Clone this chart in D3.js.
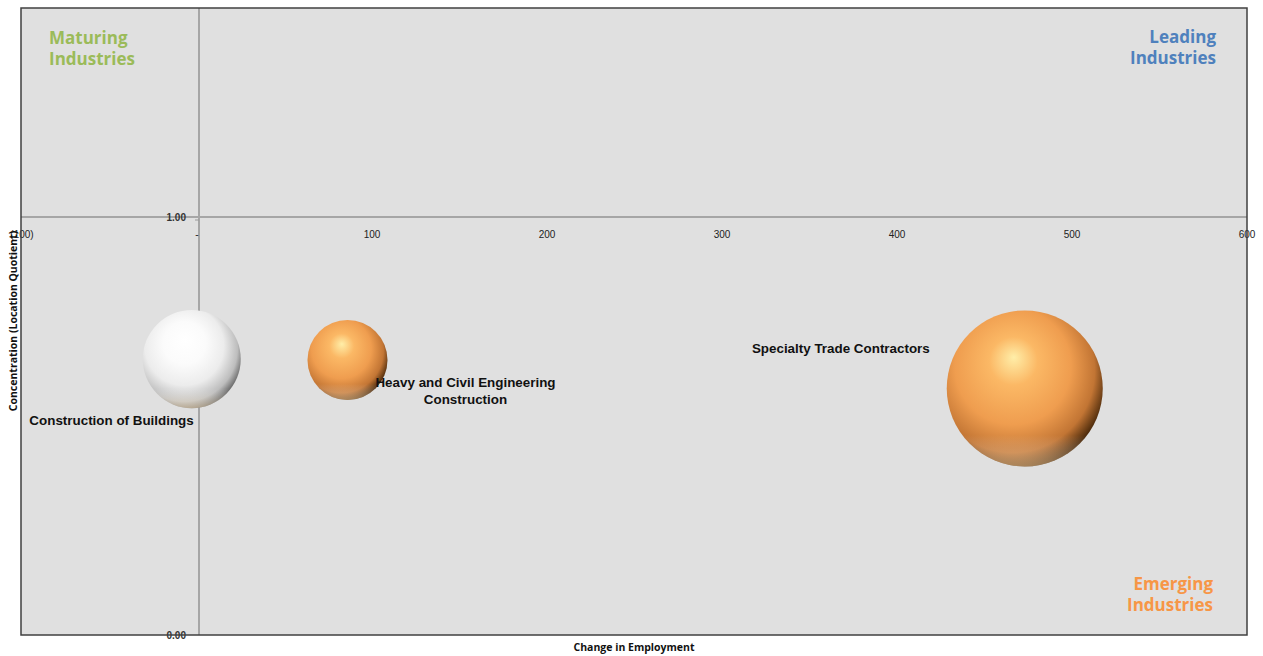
<!DOCTYPE html>
<html><head><meta charset="utf-8">
<script src="https://cdn.jsdelivr.net/npm/d3@7"></script>
<style>body{margin:0;background:#fff;}svg{display:block;}</style>
</head><body>
<script>
const industries = ["Construction of Buildings", "Heavy and Civil Engineering Construction", "Specialty Trade Contractors"];
const changeEmp = [-3, 86, 473];
const locQuot = [0.66, 0.658, 0.59];
const bubbleSize = [2400, 1600, 6080];
const bubbleKind = ["white", "orange", "orange"];
const xTicks = [-100, 0, 100, 200, 300, 400, 500, 600];
const xTickLabels = ["(100)", "-", "100", "200", "300", "400", "500", "600"];
const yTicks = [0, 1];
const yTickLabels = ["0.00", "1.00"];
const quadrants = [
  {lines:["Maturing","Industries"], color:"#9bbb59", pos:"tl"},
  {lines:["Leading","Industries"], color:"#4f81bd", pos:"tr"},
  {lines:["Emerging","Industries"], color:"#f79646", pos:"br"}
];

const W = 1263, H = 656;
const L = 21, R = 1247, T = 8, B = 635;
const svg = d3.select("body").append("svg").attr("width", W).attr("height", H);
const x = d3.scaleLinear().domain([-100, 600]).range([22, 1247]);
const y = d3.scaleLinear().domain([0, 1.5]).range([635, 8]);
const r = d3.scaleSqrt().domain([0, d3.max(bubbleSize)]).range([0, 78]);

const defs = svg.append("defs");
const og = defs.append("radialGradient").attr("id","gOrange").attr("cx","0.42").attr("cy","0.4").attr("r","0.62").attr("fx","0.43").attr("fy","0.3");
[[0,"#ffeea8"],[0.25,"#fbb865"],[0.6,"#ef9d4f"],[0.85,"#c27534"],[1,"#4f2c0c"]].forEach(s=>og.append("stop").attr("offset",s[0]).attr("stop-color",s[1]));
const wg = defs.append("radialGradient").attr("id","gWhite").attr("cx","0.42").attr("cy","0.4").attr("r","0.62").attr("fx","0.43").attr("fy","0.3");
[[0,"#ffffff"],[0.35,"#fbfbfb"],[0.65,"#ececec"],[0.88,"#bdbdbd"],[1,"#6e6e6e"]].forEach(s=>wg.append("stop").attr("offset",s[0]).attr("stop-color",s[1]));
// bottom rim reflection
const rg = defs.append("linearGradient").attr("id","gRim").attr("x1","0").attr("y1","0").attr("x2","0").attr("y2","1");
[[0,"#ffffff",0],[0.8,"#ffffff",0],[1,"#ffe0b0",0.45]].forEach(s=>rg.append("stop").attr("offset",s[0]).attr("stop-color",s[1]).attr("stop-opacity",s[2]));

svg.append("rect").attr("x",L).attr("y",T).attr("width",R-L).attr("height",B-T).attr("fill","#e0e0e0");

// axes lines (crossing)
svg.append("line").attr("x1",L).attr("x2",R).attr("y1",y(1)).attr("y2",y(1)).attr("stroke","#a6a6a6").attr("stroke-width",2);
svg.append("line").attr("x1",x(0)+2).attr("x2",x(0)+2).attr("y1",T).attr("y2",B).attr("stroke","#a6a6a6").attr("stroke-width",2);

// x tick labels
svg.append("g").selectAll("text").data(xTicks).join("text")
  .attr("x",d=>x(d)).attr("y",y(1)+21).attr("text-anchor","middle")
  .attr("font-family","Liberation Sans, Arial, sans-serif").attr("font-size",10).attr("fill","#222")
  .text((d,i)=>xTickLabels[i]);
// y tick labels
svg.append("g").selectAll("text").data(yTicks).join("text")
  .attr("x",x(0)-11).attr("y",d=>y(d)+4).attr("text-anchor","end")
  .attr("font-family","Liberation Sans, Arial, sans-serif").attr("font-size",10).attr("font-weight","bold").attr("fill","#333")
  .text((d,i)=>yTickLabels[i]);
svg.append("line").attr("x1",x(0)-2).attr("x2",x(0)+2).attr("y1",y(1)+3).attr("y2",y(1)+3).attr("stroke","#999");

// border
svg.append("rect").attr("x",L).attr("y",T).attr("width",R-L).attr("height",B-T).attr("fill","none").attr("stroke","#404040").attr("stroke-width",1.5);

// axis titles
svg.append("text").attr("x",634).attr("y",651).attr("text-anchor","middle")
  .attr("font-family","Open Sans, sans-serif").attr("font-weight","bold").attr("font-size",10.5).attr("fill","#111").text("Change in Employment");
svg.append("text").attr("transform","translate(17,321) rotate(-90)").attr("text-anchor","middle")
  .attr("font-family","Open Sans, sans-serif").attr("font-weight","bold").attr("font-size",10.5).attr("fill","#111").text("Concentration (Location Quotient)");

// bubbles
const data = industries.map((n,i)=>({n, x:changeEmp[i], y:locQuot[i], s:bubbleSize[i], k:bubbleKind[i]}));
const bg = svg.append("g");
bg.selectAll("circle.b").data(data).join("circle").attr("class","b")
  .attr("cx",d=>x(d.x)).attr("cy",d=>y(d.y)).attr("r",d=>r(d.s))
  .attr("fill",d=>d.k==="white"?"url(#gWhite)":"url(#gOrange)");
bg.selectAll("circle.rim").data(data).join("circle").attr("class","rim")
  .attr("cx",d=>x(d.x)).attr("cy",d=>y(d.y)).attr("r",d=>r(d.s))
  .attr("fill","url(#gRim)");

// data labels
const lab = svg.append("g").attr("font-family","Liberation Sans, Arial, sans-serif").attr("font-weight","bold").attr("font-size",13.4).attr("fill","#111");
lab.append("text").attr("x",x(changeEmp[0])+2).attr("y",y(locQuot[0])+66).attr("text-anchor","end").text("Construction of Buildings");
const h = lab.append("text").attr("text-anchor","middle");
h.append("tspan").attr("x",x(changeEmp[1])+118).attr("y",y(locQuot[1])+27).text("Heavy and Civil Engineering");
h.append("tspan").attr("x",x(changeEmp[1])+118).attr("y",y(locQuot[1])+44).text("Construction");
lab.append("text").attr("x",x(changeEmp[2])-95).attr("y",y(locQuot[2])-35).attr("text-anchor","end").text("Specialty Trade Contractors");

// quadrant labels
const q = svg.append("g").attr("font-family","Open Sans, sans-serif").attr("font-weight","bold").attr("font-size",17);
quadrants.forEach(d=>{
  const t = q.append("text").attr("fill",d.color);
  let ax, ay, anchor;
  if(d.pos==="tl"){ax=49;ay=44;anchor="start";}
  else if(d.pos==="tr"){ax=1216;ay=43;anchor="end";}
  else {ax=1213;ay=590;anchor="end";}
  t.attr("text-anchor",anchor);
  d.lines.forEach((ln,i)=>t.append("tspan").attr("x",ax).attr("y",ay+i*21).text(ln));
});
</script>
</body></html>
